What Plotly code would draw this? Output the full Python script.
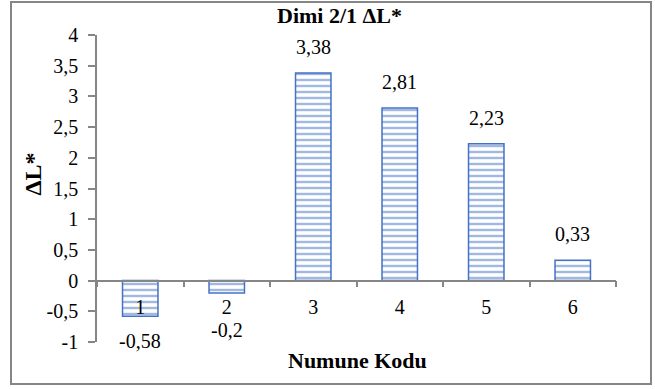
import plotly.graph_objects as go

# Sample codes and their ΔL* values
codes = ["1", "2", "3", "4", "5", "6"]
delta_l = [-0.58, -0.2, 3.38, 2.81, 2.23, 0.33]

# Value-axis ticks
y_ticks = [-1, -0.5, 0, 0.5, 1, 1.5, 2, 2.5, 3, 3.5, 4]


def fmt(v):
    # decimal comma, plain hyphen for negatives
    return f"{v:g}".replace(".", ",")


FONT = "Liberation Serif, Times New Roman, serif"
BLUE = "#4472C4"
GRAY = "#868686"

Y_MIN, Y_MAX = -1, 4
PLOT_H = 307  # plot-area height in px
PX_PER_UNIT = PLOT_H / (Y_MAX - Y_MIN)
LABEL_SIZE = 20
TITLE_SIZE = 22

fig = go.Figure()
fig.add_trace(go.Bar(
    x=codes,
    y=delta_l,
    width=0.41,
    marker=dict(
        color="white",
        line=dict(color=BLUE, width=1.5),
        pattern=dict(shape="-", fgcolor=BLUE, bgcolor="white", size=6, solidity=0.4),
    ),
    hoverinfo="skip",
))

# Value labels: above positive bars, below negative bars (kept clear of the category labels)
annotations = []
for i, v in enumerate(delta_l):
    if v >= 0:
        annotations.append(dict(x=i, y=v, xref="x", yref="y", text=fmt(v),
                                showarrow=False, yanchor="middle", yshift=26,
                                font=dict(family=FONT, size=LABEL_SIZE, color="black")))
    else:
        drop = max(-v * PX_PER_UNIT + 25, 49)
        annotations.append(dict(x=i, y=0, xref="x", yref="y", text=fmt(v),
                                showarrow=False, yanchor="middle", yshift=-drop,
                                font=dict(family=FONT, size=LABEL_SIZE, color="black")))

# Chart title and axis titles
annotations += [
    dict(text="<b>Dimi 2/1 ΔL*</b>", x=0.468, y=1.065, xref="paper", yref="paper",
         showarrow=False, xanchor="center", yanchor="middle",
         font=dict(family=FONT, size=TITLE_SIZE, color="black")),
    dict(text="<b>Numune Kodu</b>", x=0.501, y=-0.059, xref="paper", yref="paper",
         showarrow=False, xanchor="center", yanchor="middle",
         font=dict(family=FONT, size=TITLE_SIZE, color="black")),
    dict(text="<b>ΔL*</b>", x=-0.123, y=0.546, xref="paper", yref="paper",
         showarrow=False, xanchor="center", yanchor="middle", textangle=-90,
         font=dict(family=FONT, size=24, color="black")),
]

fig.update_layout(
    width=655,
    height=389,
    margin=dict(l=97, r=39, t=35, b=47),
    paper_bgcolor="white",
    plot_bgcolor="white",
    showlegend=False,
    annotations=annotations,
    shapes=[dict(type="rect", xref="paper", yref="paper",
                 x0=-0.1657, x1=1.0674, y0=-0.1368, y1=1.1075,
                 line=dict(color=GRAY, width=2), fillcolor="rgba(0,0,0,0)")],
    xaxis=dict(
        type="category",
        range=[-0.5, len(codes) - 0.5],
        anchor="free",
        position=(0 - Y_MIN) / (Y_MAX - Y_MIN),
        showline=True, linecolor=GRAY, linewidth=1.5,
        ticks="outside", tickson="boundaries", ticklen=6, tickcolor=GRAY, tickwidth=1.5,
        showgrid=False, zeroline=False,
        tickfont=dict(family=FONT, size=LABEL_SIZE, color="black"),
        ticklabelstandoff=9,
    ),
    yaxis=dict(
        range=[Y_MIN, Y_MAX],
        tickvals=y_ticks,
        ticktext=[fmt(t) for t in y_ticks],
        showline=True, linecolor=GRAY, linewidth=1.5,
        ticks="outside", ticklen=7, tickcolor=GRAY, tickwidth=1.5,
        showgrid=False, zeroline=False,
        tickfont=dict(family=FONT, size=LABEL_SIZE, color="black"),
        ticklabelstandoff=6,
    ),
)

fig.write_html("out.html")
